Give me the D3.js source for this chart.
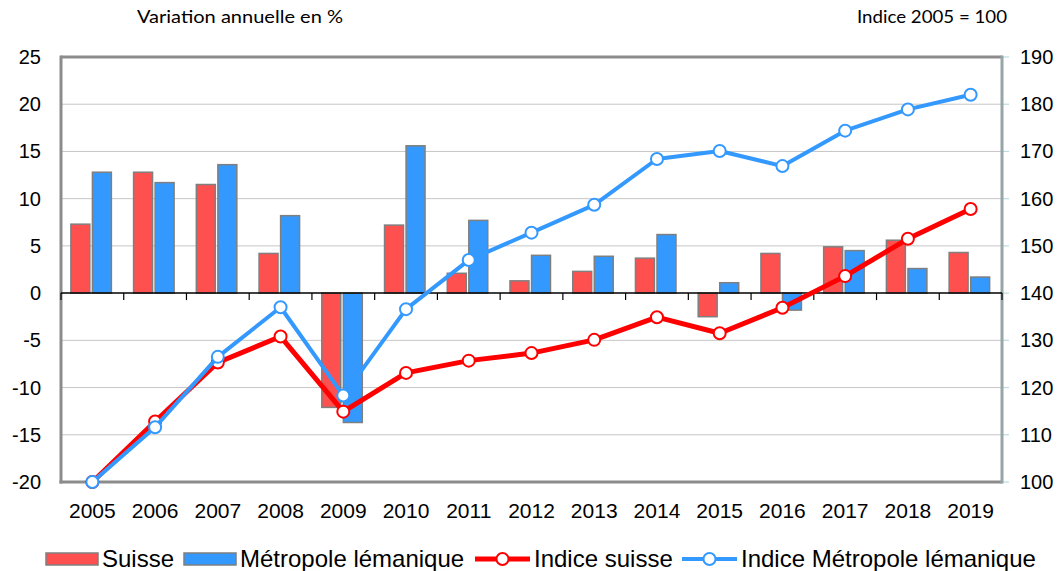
<!DOCTYPE html>
<html><head><meta charset="utf-8">
<script src="https://cdn.jsdelivr.net/npm/d3@7"></script>
<style>body{margin:0;background:#fff}svg{display:block}</style>
</head><body>
<svg id="chart" width="1062" height="571"></svg>
<script>
const years = ["2005","2006","2007","2008","2009","2010","2011","2012","2013","2014","2015","2016","2017","2018","2019"];
const varSuisse = [7.3,12.8,11.5,4.2,-12.1,7.2,2.1,1.3,2.3,3.7,-2.5,4.2,4.9,5.6,4.3];
const varMetro  = [12.8,11.7,13.6,8.2,-13.7,15.6,7.7,4.0,3.9,6.2,1.1,-1.8,4.5,2.6,1.7];
const idxSuisse = [100,112.8,125.3,130.8,114.9,123.1,125.7,127.3,130.1,134.9,131.5,136.9,143.6,151.5,157.8];
const idxMetro  = [100,111.6,126.5,137.0,118.3,136.6,147.0,152.8,158.7,168.4,170.1,166.9,174.4,178.9,182.0];
const leftTicks = [25,20,15,10,5,0,-5,-10,-15,-20];
const rightTicks = [190,180,170,160,150,140,130,120,110,100];
const seriesNames = ["Suisse","Métropole lémanique","Indice suisse","Indice Métropole lémanique"];
const leftTitle = "Variation annuelle en %";
const rightTitle = "Indice 2005 = 100";

const RED_BAR = "#ff5050", BLUE_BAR = "#3399ff", RED_LINE = "#ff0000", BLUE_LINE = "#3399ff";
const svg = d3.select("#chart");
const L = 61, R = 1002, T = 57, B = 482;

const x = d3.scaleBand().domain(years).range([L, R]).padding(0);
const yL = d3.scaleLinear().domain([-20, 25]).range([B, T]);
const yR = d3.scaleLinear().domain([100, 190]).range([B, T]);
const inner = d3.scaleBand().domain(["s","m"]).range([-21.5, 19]).paddingInner(0.12);

// gridlines
svg.append("g").selectAll("line").data(leftTicks.filter(v => v !== 0 && v !== 25 && v !== -20)).join("line")
  .attr("x1", L).attr("x2", R).attr("y1", d => yL(d)).attr("y2", d => yL(d))
  .attr("stroke", "#c6c6c6").attr("stroke-width", 1);

// right axis small ticks
svg.append("g").selectAll("line").data(rightTicks).join("line")
  .attr("x1", R).attr("x2", R + 7).attr("y1", d => yR(d)).attr("y2", d => yR(d))
  .attr("stroke", "#b9dde0").attr("stroke-width", 1.2);

// bars
const cx = d => x(d) + x.bandwidth() / 2;
function bars(vals, key, fill) {
  svg.append("g").selectAll("rect").data(vals.map((v, i) => ({ y: years[i], v }))).join("rect")
    .attr("x", d => cx(d.y) + inner(key))
    .attr("width", inner.bandwidth())
    .attr("y", d => Math.min(yL(d.v), yL(0)))
    .attr("height", d => Math.abs(yL(d.v) - yL(0)))
    .attr("fill", fill).attr("stroke", "#7f7f7f").attr("stroke-width", 1.5);
}
bars(varSuisse, "s", RED_BAR);
bars(varMetro, "m", BLUE_BAR);

// frame
svg.append("line").attr("x1", L).attr("x2", R).attr("y1", T).attr("y2", T).attr("stroke", "#8c8c8c").attr("stroke-width", 3);
svg.append("line").attr("x1", L - 1.5).attr("x2", R).attr("y1", B).attr("y2", B).attr("stroke", "#8c8c8c").attr("stroke-width", 3);
svg.append("line").attr("x1", L).attr("x2", L).attr("y1", T - 1.5).attr("y2", B + 1.5).attr("stroke", "#8c8c8c").attr("stroke-width", 3);
svg.append("line").attr("x1", R).attr("x2", R).attr("y1", T - 1.5).attr("y2", B + 1.5).attr("stroke", "#98a5a8").attr("stroke-width", 3);

// zero axis with category ticks
svg.append("line").attr("x1", L).attr("x2", R).attr("y1", yL(0)).attr("y2", yL(0)).attr("stroke", "#000").attr("stroke-width", 1.5);
svg.append("g").selectAll("line").data(years.concat(["end"])).join("line")
  .attr("x1", (d, i) => i < years.length ? x(d) : R).attr("x2", (d, i) => i < years.length ? x(d) : R)
  .attr("y1", yL(0)).attr("y2", yL(0) + 7).attr("stroke", "#000").attr("stroke-width", 1.2);

// lines
function series(vals, color, w) {
  const pts = vals.map((v, i) => [cx(years[i]), yR(v)]);
  svg.append("path").attr("d", d3.line()(pts)).attr("fill", "none").attr("stroke", color)
    .attr("stroke-width", w).attr("stroke-linejoin", "round");
  svg.append("g").selectAll("circle").data(pts).join("circle")
    .attr("cx", d => d[0]).attr("cy", d => d[1]).attr("r", 6)
    .attr("fill", "#fff").attr("stroke", color).attr("stroke-width", 2);
}
series(idxSuisse, RED_LINE, 5);
series(idxMetro, BLUE_LINE, 4);

// tick labels
const font = "'Liberation Sans', Arial, sans-serif";
svg.append("g").selectAll("text").data(leftTicks).join("text")
  .attr("x", 41).attr("y", d => yL(d)).attr("dy", "0.35em").attr("text-anchor", "end")
  .attr("font-family", font).attr("font-size", 20).text(d => d);
svg.append("g").selectAll("text").data(rightTicks).join("text")
  .attr("x", 1020).attr("y", d => yR(d)).attr("dy", "0.35em")
  .attr("font-family", font).attr("font-size", 20).text(d => d);
svg.append("g").selectAll("text").data(years).join("text")
  .attr("x", d => cx(d)).attr("y", 518).attr("text-anchor", "middle")
  .attr("font-family", font).attr("font-size", 21).text(d => d);

// titles
svg.append("text").attr("x", 137).attr("y", 23).attr("font-family", "Lato, 'Open Sans', sans-serif")
  .attr("font-size", 17).attr("textLength", 206).attr("lengthAdjust", "spacingAndGlyphs").text(leftTitle);
svg.append("text").attr("x", 857).attr("y", 23).attr("font-family", "Lato, 'Open Sans', sans-serif")
  .attr("font-size", 17).attr("textLength", 150).attr("lengthAdjust", "spacingAndGlyphs").text(rightTitle);

// legend
const lg = svg.append("g");
const ly = 559;
const lfs = 24;
lg.append("rect").attr("x", 46).attr("y", ly - 6).attr("width", 52).attr("height", 12).attr("fill", RED_BAR).attr("stroke", "#7f7f7f").attr("stroke-width", 1.5);
lg.append("text").attr("x", 102).attr("y", ly + 8).attr("font-family", font).attr("font-size", lfs).text(seriesNames[0]);
lg.append("rect").attr("x", 184).attr("y", ly - 6).attr("width", 52).attr("height", 12).attr("fill", BLUE_BAR).attr("stroke", "#7f7f7f").attr("stroke-width", 1.5);
lg.append("text").attr("x", 240).attr("y", ly + 8).attr("font-family", font).attr("font-size", lfs).text(seriesNames[1]);
function legLine(x0, color, w, label) {
  lg.append("line").attr("x1", x0).attr("x2", x0 + 55).attr("y1", ly).attr("y2", ly).attr("stroke", color).attr("stroke-width", w);
  lg.append("circle").attr("cx", x0 + 27.5).attr("cy", ly).attr("r", 6).attr("fill", "#fff").attr("stroke", color).attr("stroke-width", 2);
  lg.append("text").attr("x", x0 + 59).attr("y", ly + 8).attr("font-family", font).attr("font-size", lfs).text(label);
}
legLine(475, RED_LINE, 5, seriesNames[2]);
legLine(682, BLUE_LINE, 4, seriesNames[3]);
</script>
</body></html>
